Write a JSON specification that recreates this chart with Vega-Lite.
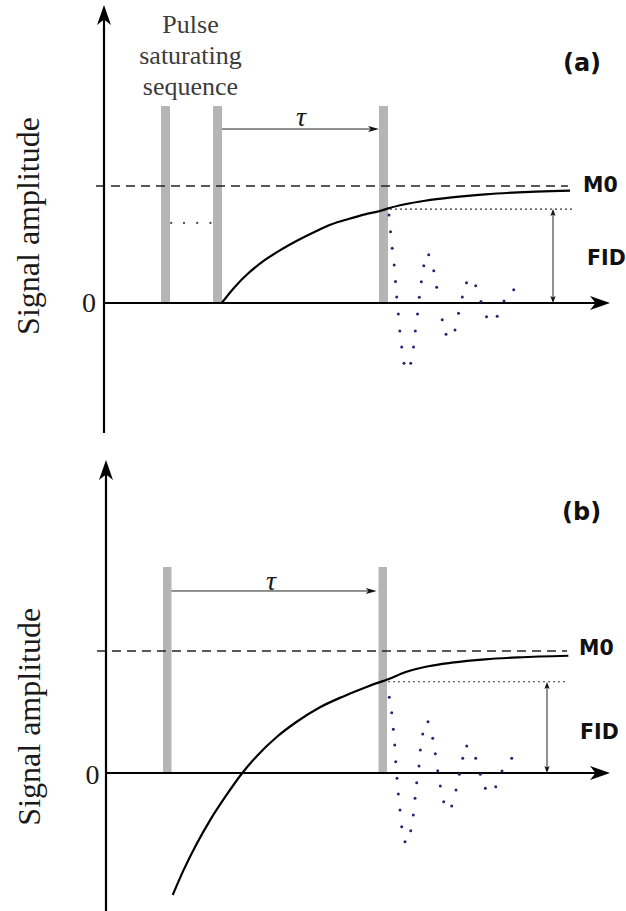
{
  "$schema": "https://vega.github.io/schema/vega-lite/v6.json",
  "padding": 0,
  "spacing": 0,
  "background": "white",
  "config": {"view": {"stroke": null}},
  "data": {"values": [
    {"p":"a","k":"bar","t":1.425,"t2":1.65,"v":0,"v2":1.684},
    {"p":"a","k":"bar","t":2.725,"t2":2.95,"v":0,"v2":1.684},
    {"p":"a","k":"bar","t":6.875,"t2":7.1,"v":0,"v2":1.684},
    {"p":"a","k":"axis","t":0,"t2":0,"v":-1.111,"v2":2.46},
    {"p":"a","k":"axis","t":0,"t2":12.4,"v":0,"v2":0},
    {"p":"a","k":"headup","t":0,"v":2.4615},
    {"p":"a","k":"headright","t":12.4,"v":0},
    {"p":"a","k":"m0","t":-0.2,"t2":11.6,"v":1,"v2":1},
    {"p":"a","k":"dotted","t":7.15,"t2":11.7,"v":0.803,"v2":0.803},
    {"p":"a","k":"thin","t":2.95,"t2":6.75,"v":1.487,"v2":1.487},
    {"p":"a","k":"thin","t":11.225,"t2":11.225,"v":0.78,"v2":0.02},
    {"p":"a","k":"tauhead","t":6.7375,"v":1.487},
    {"p":"a","k":"fidup","t":11.225,"v":0.7735},
    {"p":"a","k":"fiddown","t":11.225,"v":0.0299},
    {"p":"a","k":"ell","t":1.68,"v":0.684},
    {"p":"a","k":"ell","t":2.0,"v":0.684},
    {"p":"a","k":"ell","t":2.33,"v":0.684},
    {"p":"a","k":"ell","t":2.66,"v":0.684},
    {"p":"a","k":"curve","t":2.943,"v":0},
    {"p":"a","k":"curve","t":3.275,"v":0.139},
    {"p":"a","k":"curve","t":3.608,"v":0.254},
    {"p":"a","k":"curve","t":4.025,"v":0.368},
    {"p":"a","k":"curve","t":4.443,"v":0.459},
    {"p":"a","k":"curve","t":4.858,"v":0.538},
    {"p":"a","k":"curve","t":5.275,"v":0.609},
    {"p":"a","k":"curve","t":5.693,"v":0.673},
    {"p":"a","k":"curve","t":6.108,"v":0.718},
    {"p":"a","k":"curve","t":6.525,"v":0.758},
    {"p":"a","k":"curve","t":6.9,"v":0.786},
    {"p":"a","k":"curve","t":7.108,"v":0.809},
    {"p":"a","k":"curve","t":7.525,"v":0.844},
    {"p":"a","k":"curve","t":8.025,"v":0.874},
    {"p":"a","k":"curve","t":8.693,"v":0.903},
    {"p":"a","k":"curve","t":9.525,"v":0.929},
    {"p":"a","k":"curve","t":10.358,"v":0.946},
    {"p":"a","k":"curve","t":11.193,"v":0.957},
    {"p":"a","k":"curve","t":11.65,"v":0.96},
    {"p":"a","k":"fid","t":7.125,"v":0.752},
    {"p":"a","k":"fid","t":7.163,"v":0.609},
    {"p":"a","k":"fid","t":7.205,"v":0.468},
    {"p":"a","k":"fid","t":7.255,"v":0.325},
    {"p":"a","k":"fid","t":7.288,"v":0.184},
    {"p":"a","k":"fid","t":7.318,"v":0.051},
    {"p":"a","k":"fid","t":7.358,"v":-0.094},
    {"p":"a","k":"fid","t":7.395,"v":-0.239},
    {"p":"a","k":"fid","t":7.443,"v":-0.376},
    {"p":"a","k":"fid","t":7.5,"v":-0.515},
    {"p":"a","k":"fid","t":7.668,"v":-0.515},
    {"p":"a","k":"fid","t":7.738,"v":-0.376},
    {"p":"a","k":"fid","t":7.783,"v":-0.239},
    {"p":"a","k":"fid","t":7.838,"v":-0.094},
    {"p":"a","k":"fid","t":7.883,"v":0.049},
    {"p":"a","k":"fid","t":7.933,"v":0.182},
    {"p":"a","k":"fid","t":7.995,"v":0.319},
    {"p":"a","k":"fid","t":8.118,"v":0.412},
    {"p":"a","k":"fid","t":8.245,"v":0.275},
    {"p":"a","k":"fid","t":8.318,"v":0.134},
    {"p":"a","k":"fid","t":8.455,"v":-0.143},
    {"p":"a","k":"fid","t":8.55,"v":-0.268},
    {"p":"a","k":"fid","t":8.775,"v":-0.231},
    {"p":"a","k":"fid","t":8.863,"v":-0.088},
    {"p":"a","k":"fid","t":8.958,"v":0.051},
    {"p":"a","k":"fid","t":9.063,"v":0.173},
    {"p":"a","k":"fid","t":9.293,"v":0.147},
    {"p":"a","k":"fid","t":9.425,"v":0.013},
    {"p":"a","k":"fid","t":9.563,"v":-0.118},
    {"p":"a","k":"fid","t":9.83,"v":-0.113},
    {"p":"a","k":"fid","t":10.0,"v":0.017},
    {"p":"a","k":"fid","t":10.243,"v":0.113},
    {"p":"a","k":"ylab","t":-1.875,"v":0.658,"s":"Signal amplitude"},
    {"p":"a","k":"zero","t":-0.375,"v":-0.009,"s":"0"},
    {"p":"a","k":"pulse","t":2.1625,"v":2.31,"s":"Pulse"},
    {"p":"a","k":"pulse","t":2.1625,"v":2.043,"s":"saturating"},
    {"p":"a","k":"pulse","t":2.1625,"v":1.778,"s":"sequence"},
    {"p":"a","k":"tau","t":4.925,"v":1.581,"s":"τ"},
    {"p":"a","k":"sans","t":11.975,"v":0.996,"s":"M0"},
    {"p":"a","k":"sans","t":12.075,"v":0.376,"s":"FID"},
    {"p":"a","k":"tag","t":11.95,"v":2.043,"s":"(a)"},

    {"p":"b","k":"bar","t":1.425,"t2":1.6375,"v":0,"v2":1.689},
    {"p":"b","k":"bar","t":6.8125,"t2":7.025,"v":0,"v2":1.689},
    {"p":"b","k":"axis","t":0,"t2":0,"v":-1.131,"v2":2.48},
    {"p":"b","k":"axis","t":0,"t2":12.35,"v":0,"v2":0},
    {"p":"b","k":"headup","t":0,"v":2.4836},
    {"p":"b","k":"headright","t":12.35,"v":0},
    {"p":"b","k":"m0","t":-0.225,"t2":11.525,"v":1,"v2":1},
    {"p":"b","k":"dotted","t":7.05,"t2":11.55,"v":0.748,"v2":0.748},
    {"p":"b","k":"thin","t":1.6375,"t2":6.65,"v":1.492,"v2":1.492},
    {"p":"b","k":"thin","t":11.025,"t2":11.025,"v":0.72,"v2":0.02},
    {"p":"b","k":"tauhead","t":6.63,"v":1.492},
    {"p":"b","k":"fidup","t":11.025,"v":0.717},
    {"p":"b","k":"fiddown","t":11.025,"v":0.0287},
    {"p":"b","k":"curve","t":1.668,"v":-1.0},
    {"p":"b","k":"curve","t":1.933,"v":-0.8},
    {"p":"b","k":"curve","t":2.268,"v":-0.58},
    {"p":"b","k":"curve","t":2.6,"v":-0.388},
    {"p":"b","k":"curve","t":3.018,"v":-0.178},
    {"p":"b","k":"curve","t":3.393,"v":-0.006},
    {"p":"b","k":"curve","t":3.768,"v":0.138},
    {"p":"b","k":"curve","t":4.268,"v":0.295},
    {"p":"b","k":"curve","t":4.768,"v":0.42},
    {"p":"b","k":"curve","t":5.35,"v":0.539},
    {"p":"b","k":"curve","t":5.933,"v":0.628},
    {"p":"b","k":"curve","t":6.433,"v":0.695},
    {"p":"b","k":"curve","t":6.808,"v":0.741},
    {"p":"b","k":"curve","t":7.018,"v":0.764},
    {"p":"b","k":"curve","t":7.475,"v":0.826},
    {"p":"b","k":"curve","t":8.058,"v":0.875},
    {"p":"b","k":"curve","t":8.643,"v":0.904},
    {"p":"b","k":"curve","t":9.475,"v":0.932},
    {"p":"b","k":"curve","t":10.308,"v":0.948},
    {"p":"b","k":"curve","t":11.558,"v":0.961},
    {"p":"b","k":"fid","t":7.083,"v":0.62},
    {"p":"b","k":"fid","t":7.143,"v":0.494},
    {"p":"b","k":"fid","t":7.183,"v":0.358},
    {"p":"b","k":"fid","t":7.218,"v":0.23},
    {"p":"b","k":"fid","t":7.243,"v":0.093},
    {"p":"b","k":"fid","t":7.275,"v":-0.043},
    {"p":"b","k":"fid","t":7.308,"v":-0.172},
    {"p":"b","k":"fid","t":7.35,"v":-0.303},
    {"p":"b","k":"fid","t":7.393,"v":-0.44},
    {"p":"b","k":"fid","t":7.475,"v":-0.563},
    {"p":"b","k":"fid","t":7.618,"v":-0.473},
    {"p":"b","k":"fid","t":7.683,"v":-0.344},
    {"p":"b","k":"fid","t":7.725,"v":-0.207},
    {"p":"b","k":"fid","t":7.768,"v":-0.08},
    {"p":"b","k":"fid","t":7.825,"v":0.057},
    {"p":"b","k":"fid","t":7.858,"v":0.189},
    {"p":"b","k":"fid","t":7.918,"v":0.32},
    {"p":"b","k":"fid","t":8.05,"v":0.42},
    {"p":"b","k":"fid","t":8.168,"v":0.284},
    {"p":"b","k":"fid","t":8.233,"v":0.158},
    {"p":"b","k":"fid","t":8.293,"v":0.019},
    {"p":"b","k":"fid","t":8.358,"v":-0.107},
    {"p":"b","k":"fid","t":8.443,"v":-0.235},
    {"p":"b","k":"fid","t":8.643,"v":-0.27},
    {"p":"b","k":"fid","t":8.75,"v":-0.139},
    {"p":"b","k":"fid","t":8.833,"v":-0.011},
    {"p":"b","k":"fid","t":8.918,"v":0.12},
    {"p":"b","k":"fid","t":9.018,"v":0.221},
    {"p":"b","k":"fid","t":9.243,"v":0.12},
    {"p":"b","k":"fid","t":9.358,"v":-0.011},
    {"p":"b","k":"fid","t":9.483,"v":-0.125},
    {"p":"b","k":"fid","t":9.743,"v":-0.112},
    {"p":"b","k":"fid","t":9.9,"v":0.016},
    {"p":"b","k":"fid","t":10.143,"v":0.12},
    {"p":"b","k":"ylab","t":-1.9,"v":0.461,"s":"Signal amplitude"},
    {"p":"b","k":"zero","t":-0.3375,"v":-0.025,"s":"0"},
    {"p":"b","k":"tau","t":4.125,"v":1.5615,"s":"τ"},
    {"p":"b","k":"sans","t":11.825,"v":1.016,"s":"M0"},
    {"p":"b","k":"sans","t":11.85,"v":0.325,"s":"FID"},
    {"p":"b","k":"tag","t":11.89,"v":2.129,"s":"(b)"}
  ]},
  "vconcat": [
    {
      "width": 626, "height": 440,
      "transform": [{"filter": "datum.p === 'a'"}],
      "encoding": {
        "x": {"field": "t", "type": "quantitative", "scale": {"domain": [-2.6, 13.05], "nice": false, "zero": false}, "axis": null},
        "y": {"field": "v", "type": "quantitative", "scale": {"domain": [-1.17094, 2.58974], "nice": false, "zero": false}, "axis": null}
      },
      "layer": [
        {"transform": [{"filter": "datum.k === 'bar'"}], "mark": {"type": "rect", "color": "#b5b5b5"}, "encoding": {"x2": {"field": "t2"}, "y2": {"field": "v2"}}},
        {"transform": [{"filter": "datum.k === 'm0'"}], "mark": {"type": "rule", "color": "#222", "strokeWidth": 1.7, "strokeDash": [9, 6]}, "encoding": {"x2": {"field": "t2"}, "y2": {"field": "v2"}}},
        {"transform": [{"filter": "datum.k === 'dotted'"}], "mark": {"type": "rule", "color": "#333", "strokeWidth": 1.2, "strokeDash": [2, 3]}, "encoding": {"x2": {"field": "t2"}, "y2": {"field": "v2"}}},
        {"transform": [{"filter": "datum.k === 'thin'"}], "mark": {"type": "rule", "color": "#222", "strokeWidth": 1}, "encoding": {"x2": {"field": "t2"}, "y2": {"field": "v2"}}},
        {"transform": [{"filter": "datum.k === 'axis'"}], "mark": {"type": "rule", "color": "#000", "strokeWidth": 2.2}, "encoding": {"x2": {"field": "t2"}, "y2": {"field": "v2"}}},
        {"transform": [{"filter": "datum.k === 'curve'"}], "mark": {"type": "line", "color": "#000", "strokeWidth": 2.2, "interpolate": "monotone"}, "encoding": {}},
        {"transform": [{"filter": "datum.k === 'fid'"}], "mark": {"type": "point", "filled": true, "opacity": 1, "size": 9, "color": "#262670"}, "encoding": {}},
        {"transform": [{"filter": "datum.k === 'ell'"}], "mark": {"type": "point", "filled": true, "opacity": 1, "size": 5, "color": "#444"}, "encoding": {}},
        {"transform": [{"filter": "datum.k === 'headup'"}], "mark": {"type": "point", "filled": true, "opacity": 1, "size": 400, "color": "#000", "shape": "M0,-1L0.7,1L0,0.45L-0.7,1Z"}, "encoding": {}},
        {"transform": [{"filter": "datum.k === 'headright'"}], "mark": {"type": "point", "filled": true, "opacity": 1, "size": 400, "angle": 90, "color": "#000", "shape": "M0,-1L0.7,1L0,0.45L-0.7,1Z"}, "encoding": {}},
        {"transform": [{"filter": "datum.k === 'tauhead'"}], "mark": {"type": "point", "filled": true, "opacity": 1, "size": 121, "angle": 90, "color": "#111", "shape": "M0,-1L0.55,1L0,0.5L-0.55,1Z"}, "encoding": {}},
        {"transform": [{"filter": "datum.k === 'fidup'"}], "mark": {"type": "point", "filled": true, "opacity": 1, "size": 49, "color": "#111", "shape": "M0,-1L0.75,1L0,0.55L-0.75,1Z"}, "encoding": {}},
        {"transform": [{"filter": "datum.k === 'fiddown'"}], "mark": {"type": "point", "filled": true, "opacity": 1, "size": 49, "angle": 180, "color": "#111", "shape": "M0,-1L0.75,1L0,0.55L-0.75,1Z"}, "encoding": {}},
        {"transform": [{"filter": "datum.k === 'ylab'"}], "mark": {"type": "text", "font": "Liberation Serif", "fontSize": 32, "angle": 270, "align": "center", "baseline": "middle", "color": "#1a1a1a"}, "encoding": {"text": {"field": "s"}}},
        {"transform": [{"filter": "datum.k === 'zero'"}], "mark": {"type": "text", "font": "Liberation Serif", "fontSize": 28, "align": "center", "baseline": "middle", "color": "#1a1a1a"}, "encoding": {"text": {"field": "s"}}},
        {"transform": [{"filter": "datum.k === 'pulse'"}], "mark": {"type": "text", "font": "Liberation Serif", "fontSize": 26, "align": "center", "baseline": "alphabetic", "color": "#3c3c3c"}, "encoding": {"text": {"field": "s"}}},
        {"transform": [{"filter": "datum.k === 'tau'"}], "mark": {"type": "text", "font": "Liberation Serif", "fontStyle": "italic", "fontSize": 28, "align": "center", "baseline": "middle", "color": "#1a1a1a"}, "encoding": {"text": {"field": "s"}}},
        {"transform": [{"filter": "datum.k === 'sans'"}], "mark": {"type": "text", "font": "DejaVu Sans", "fontSize": 20.5, "fontWeight": "bold", "align": "left", "baseline": "middle", "color": "#111"}, "encoding": {"text": {"field": "s"}}},
        {"transform": [{"filter": "datum.k === 'tag'"}], "mark": {"type": "text", "font": "DejaVu Sans", "fontSize": 24, "fontWeight": "bold", "align": "center", "baseline": "middle", "color": "#111"}, "encoding": {"text": {"field": "s"}}}
      ]
    },
    {
      "width": 626, "height": 471,
      "transform": [{"filter": "datum.p === 'b'"}],
      "encoding": {
        "x": {"field": "t", "type": "quantitative", "scale": {"domain": [-2.65, 13.0], "nice": false, "zero": false}, "axis": null},
        "y": {"field": "v", "type": "quantitative", "scale": {"domain": [-1.1311, 2.7295], "nice": false, "zero": false}, "axis": null}
      },
      "layer": [
        {"transform": [{"filter": "datum.k === 'bar'"}], "mark": {"type": "rect", "color": "#b5b5b5"}, "encoding": {"x2": {"field": "t2"}, "y2": {"field": "v2"}}},
        {"transform": [{"filter": "datum.k === 'm0'"}], "mark": {"type": "rule", "color": "#222", "strokeWidth": 1.7, "strokeDash": [9, 6]}, "encoding": {"x2": {"field": "t2"}, "y2": {"field": "v2"}}},
        {"transform": [{"filter": "datum.k === 'dotted'"}], "mark": {"type": "rule", "color": "#333", "strokeWidth": 1.2, "strokeDash": [2, 3]}, "encoding": {"x2": {"field": "t2"}, "y2": {"field": "v2"}}},
        {"transform": [{"filter": "datum.k === 'thin'"}], "mark": {"type": "rule", "color": "#222", "strokeWidth": 1}, "encoding": {"x2": {"field": "t2"}, "y2": {"field": "v2"}}},
        {"transform": [{"filter": "datum.k === 'axis'"}], "mark": {"type": "rule", "color": "#000", "strokeWidth": 2.2}, "encoding": {"x2": {"field": "t2"}, "y2": {"field": "v2"}}},
        {"transform": [{"filter": "datum.k === 'curve'"}], "mark": {"type": "line", "color": "#000", "strokeWidth": 2.2, "interpolate": "monotone"}, "encoding": {}},
        {"transform": [{"filter": "datum.k === 'fid'"}], "mark": {"type": "point", "filled": true, "opacity": 1, "size": 9, "color": "#262670"}, "encoding": {}},
        {"transform": [{"filter": "datum.k === 'headup'"}], "mark": {"type": "point", "filled": true, "opacity": 1, "size": 400, "color": "#000", "shape": "M0,-1L0.7,1L0,0.45L-0.7,1Z"}, "encoding": {}},
        {"transform": [{"filter": "datum.k === 'headright'"}], "mark": {"type": "point", "filled": true, "opacity": 1, "size": 400, "angle": 90, "color": "#000", "shape": "M0,-1L0.7,1L0,0.45L-0.7,1Z"}, "encoding": {}},
        {"transform": [{"filter": "datum.k === 'tauhead'"}], "mark": {"type": "point", "filled": true, "opacity": 1, "size": 121, "angle": 90, "color": "#111", "shape": "M0,-1L0.55,1L0,0.5L-0.55,1Z"}, "encoding": {}},
        {"transform": [{"filter": "datum.k === 'fidup'"}], "mark": {"type": "point", "filled": true, "opacity": 1, "size": 49, "color": "#111", "shape": "M0,-1L0.75,1L0,0.55L-0.75,1Z"}, "encoding": {}},
        {"transform": [{"filter": "datum.k === 'fiddown'"}], "mark": {"type": "point", "filled": true, "opacity": 1, "size": 49, "angle": 180, "color": "#111", "shape": "M0,-1L0.75,1L0,0.55L-0.75,1Z"}, "encoding": {}},
        {"transform": [{"filter": "datum.k === 'ylab'"}], "mark": {"type": "text", "font": "Liberation Serif", "fontSize": 32, "angle": 270, "align": "center", "baseline": "middle", "color": "#1a1a1a"}, "encoding": {"text": {"field": "s"}}},
        {"transform": [{"filter": "datum.k === 'zero'"}], "mark": {"type": "text", "font": "Liberation Serif", "fontSize": 28, "align": "center", "baseline": "middle", "color": "#1a1a1a"}, "encoding": {"text": {"field": "s"}}},
        {"transform": [{"filter": "datum.k === 'tau'"}], "mark": {"type": "text", "font": "Liberation Serif", "fontStyle": "italic", "fontSize": 28, "align": "center", "baseline": "middle", "color": "#1a1a1a"}, "encoding": {"text": {"field": "s"}}},
        {"transform": [{"filter": "datum.k === 'sans'"}], "mark": {"type": "text", "font": "DejaVu Sans", "fontSize": 20.5, "fontWeight": "bold", "align": "left", "baseline": "middle", "color": "#111"}, "encoding": {"text": {"field": "s"}}},
        {"transform": [{"filter": "datum.k === 'tag'"}], "mark": {"type": "text", "font": "DejaVu Sans", "fontSize": 24, "fontWeight": "bold", "align": "center", "baseline": "middle", "color": "#111"}, "encoding": {"text": {"field": "s"}}}
      ]
    }
  ]
}
